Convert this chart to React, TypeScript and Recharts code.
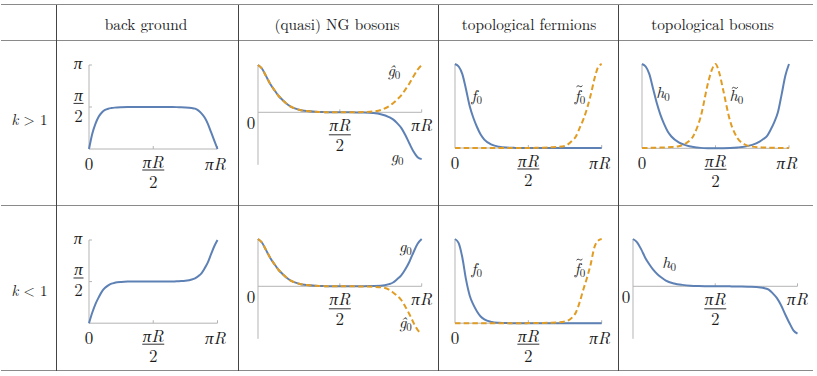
import React from 'react';
import { LineChart, Line, XAxis, YAxis, ReferenceLine } from 'recharts';

// ---------- data (x in units of πR, y) ----------
const X = [0, 0.025, 0.05, 0.075, 0.1, 0.125, 0.15, 0.175, 0.2, 0.25, 0.3, 0.35, 0.4, 0.45, 0.475, 0.5, 0.525, 0.55, 0.6, 0.65, 0.7, 0.75, 0.8, 0.825, 0.85, 0.875, 0.9, 0.925, 0.95, 0.975, 1];

const columnTitles = ['back ground', '(quasi) NG bosons', 'topological fermions', 'topological bosons'];
const rowTitles = ['>', '<'];
const X_TICKS = [0, 0.5, 1];
const Y_TICKS = [1, 2]; // π/2, π  (y in units of π/2)

// background (units of π/2)
const bgHigh = [0, 0.36, 0.6, 0.77, 0.87, 0.93, 0.96, 0.975, 0.985, 0.995, 1, 1, 1, 1, 1, 1, 1, 1, 1, 1, 0.995, 0.99, 0.975, 0.96, 0.92, 0.85, 0.75, 0.6, 0.4, 0.2, 0];
const bgLow = [0, 0.25, 0.46, 0.62, 0.76, 0.85, 0.91, 0.95, 0.97, 0.99, 1, 1, 1, 1, 1, 1, 1, 1, 1, 1, 1.01, 1.02, 1.05, 1.08, 1.13, 1.2, 1.32, 1.46, 1.66, 1.85, 2];
// NG bosons
const g0High = [1, 0.92, 0.76, 0.6, 0.47, 0.35, 0.26, 0.18, 0.12, 0.055, 0.025, 0.01, 0.004, 0.001, 0, 0, 0, -0.001, -0.002, -0.005, -0.015, -0.04, -0.1, -0.15, -0.23, -0.33, -0.48, -0.66, -0.83, -0.95, -0.99];
const gHatHigh = [1, 0.92, 0.76, 0.6, 0.47, 0.35, 0.26, 0.18, 0.12, 0.055, 0.025, 0.01, 0.004, 0.001, 0, 0, 0, 0.001, 0.002, 0.005, 0.015, 0.05, 0.13, 0.19, 0.27, 0.36, 0.48, 0.61, 0.76, 0.9, 1];
const g0Low = [1, 0.92, 0.76, 0.6, 0.47, 0.35, 0.26, 0.18, 0.12, 0.055, 0.025, 0.01, 0.004, 0.001, 0, 0, 0, 0, 0, 0.002, 0.005, 0.01, 0.045, 0.08, 0.15, 0.23, 0.36, 0.52, 0.72, 0.9, 1];
const gHatLow = [1, 0.92, 0.76, 0.6, 0.47, 0.35, 0.26, 0.18, 0.12, 0.055, 0.025, 0.01, 0.004, 0.001, 0, 0, 0, 0, -0.002, -0.005, -0.01, -0.02, -0.07, -0.13, -0.2, -0.29, -0.43, -0.59, -0.77, -0.92, -1];
// topological fermions
const f0High = [1, 0.97, 0.88, 0.7, 0.5, 0.36, 0.25, 0.16, 0.1, 0.04, 0.015, 0.005, 0.002, 0, 0, 0, 0, 0, 0, 0, 0, 0, 0, 0, 0, 0, 0, 0, 0, 0, 0];
const fTildeHigh = [0, 0, 0, 0, 0, 0, 0, 0, 0, 0, 0, 0, 0, 0, 0, 0.001, 0.001, 0.002, 0.004, 0.008, 0.013, 0.025, 0.09, 0.14, 0.24, 0.34, 0.47, 0.63, 0.82, 0.96, 1];
const f0Low = [1, 0.95, 0.78, 0.52, 0.33, 0.22, 0.14, 0.08, 0.045, 0.015, 0.005, 0.001, 0, 0, 0, 0, 0, 0, 0, 0, 0, 0, 0, 0, 0, 0, 0, 0, 0, 0, 0];
const fTildeLow = [0, 0, 0, 0, 0, 0, 0, 0, 0, 0, 0, 0, 0, 0, 0, 0.001, 0.001, 0.002, 0.003, 0.005, 0.009, 0.02, 0.07, 0.13, 0.25, 0.4, 0.54, 0.7, 0.9, 0.98, 1];
// topological bosons
const h0High = [1, 0.97, 0.88, 0.71, 0.54, 0.4, 0.29, 0.2, 0.14, 0.07, 0.035, 0.015, 0.005, 0.001, 0, 0, 0, 0.001, 0.004, 0.01, 0.02, 0.04, 0.08, 0.11, 0.145, 0.22, 0.31, 0.43, 0.64, 0.86, 1];
const hTildeHigh = [0.005, 0.005, 0.005, 0.006, 0.007, 0.008, 0.01, 0.012, 0.015, 0.025, 0.06, 0.15, 0.38, 0.78, 0.93, 1, 0.9, 0.71, 0.32, 0.12, 0.045, 0.02, 0.012, 0.01, 0.008, 0.007, 0.006, 0.005, 0.005, 0.005, 0.005];
const h0Low = [1, 0.93, 0.78, 0.6, 0.46, 0.34, 0.25, 0.18, 0.12, 0.06, 0.03, 0.012, 0.005, 0.001, 0, 0, 0, 0, -0.002, -0.005, -0.01, -0.015, -0.04, -0.07, -0.15, -0.25, -0.4, -0.59, -0.77, -0.93, -1];

// ---------- styles ----------
const FONT = '"Latin Modern Roman", "Liberation Serif", serif';
const INK = '#1a1a1a';
const AXIS = '#b4b4b4';
const BLUE = '#5e81b5';
const ORANGE = '#e19c24';
const TICK_FS = 17;
const ML = 34, MR = 18, MT = 14, MB = 52;

type Series = { key: string; values: number[]; color: string; dashed?: boolean };
type Note = { x: number; y: number; base: string; accent?: 'tilde' };
type Panel = {
  id: string;
  box: { x: number; y: number; w: number; h: number };
  yDomain: [number, number];
  mode: 'bottom' | 'mid';
  yTicks?: boolean;
  series: Series[];
  notes: Note[];
};

const panels: Panel[] = [
  { id: 'r1c1', box: { x: 88.5, y: 65, w: 128.5, h: 84 }, yDomain: [0, 2], mode: 'bottom', yTicks: true,
    series: [{ key: 'bg', values: bgHigh, color: BLUE }], notes: [] },
  { id: 'r1c2', box: { x: 258, y: 64.7, w: 163.7, h: 99.8 }, yDomain: [-1.11, 1], mode: 'mid',
    series: [{ key: 'g', values: g0High, color: BLUE }, { key: 'gh', values: gHatHigh, color: ORANGE, dashed: true }],
    notes: [{ x: 0.83, y: 0.86, base: 'ĝ' }, { x: 0.85, y: -0.96, base: 'g' }] },
  { id: 'r1c3', box: { x: 455, y: 64.3, w: 146.7, h: 84 }, yDomain: [0, 1], mode: 'bottom',
    series: [{ key: 'f', values: f0High, color: BLUE }, { key: 'ft', values: fTildeHigh, color: ORANGE, dashed: true }],
    notes: [{ x: 0.148, y: 0.61, base: 'f' }, { x: 0.852, y: 0.61, base: 'f', accent: 'tilde' }] },
  { id: 'r1c4', box: { x: 642.3, y: 64, w: 147, h: 84.3 }, yDomain: [0, 1], mode: 'bottom',
    series: [{ key: 'h', values: h0High, color: BLUE }, { key: 'ht', values: hTildeHigh, color: ORANGE, dashed: true }],
    notes: [{ x: 0.143, y: 0.65, base: 'h' }, { x: 0.642, y: 0.61, base: 'h', accent: 'tilde' }] },
  { id: 'r2c1', box: { x: 88.5, y: 239.5, w: 128.5, h: 83.2 }, yDomain: [0, 2], mode: 'bottom', yTicks: true,
    series: [{ key: 'bg', values: bgLow, color: BLUE }], notes: [] },
  { id: 'r2c2', box: { x: 258, y: 238.7, w: 163.7, h: 99.8 }, yDomain: [-1.11, 1], mode: 'mid',
    series: [{ key: 'g', values: g0Low, color: BLUE }, { key: 'gh', values: gHatLow, color: ORANGE, dashed: true }],
    notes: [{ x: 0.9, y: 0.82, base: 'g' }, { x: 0.9, y: -0.8, base: 'ĝ' }] },
  { id: 'r2c3', box: { x: 455, y: 238.5, w: 146.7, h: 84.2 }, yDomain: [0, 1], mode: 'bottom',
    series: [{ key: 'f', values: f0Low, color: BLUE }, { key: 'ft', values: fTildeLow, color: ORANGE, dashed: true }],
    notes: [{ x: 0.148, y: 0.63, base: 'f' }, { x: 0.852, y: 0.63, base: 'f', accent: 'tilde' }] },
  { id: 'r2c4', box: { x: 632.5, y: 238.7, w: 164.5, h: 99.8 }, yDomain: [-1.11, 1], mode: 'mid',
    series: [{ key: 'h', values: h0Low, color: BLUE }],
    notes: [{ x: 0.22, y: 0.47, base: 'h' }] },
];

function tableRows(series: Series[]) {
  return X.map((x, i) => {
    const row: Record<string, number> = { x };
    series.forEach((s) => { row[s.key] = s.values[i]; });
    return row;
  });
}

const textBase = { fontFamily: FONT, fill: INK, textAnchor: 'middle' as const, fontSize: TICK_FS };

// baselines measured from the tick point (pixels)
const X_LAYOUT = {
  bottom: { z: 20.7, zx: 0, num: 19, bar: 21, den: 38.5, end: 20.8, ex: -2 },
  mid: { z: 17.2, zx: -7, num: 18.3, bar: 22.5, den: 39.2, end: 18.5, ex: 0 },
};

function xTickShape(t: number, mode: 'bottom' | 'mid') {
  const m = X_LAYOUT[mode];
  return (p: any) => {
    const cx = p.x1, cy = p.y1;
    if (t === 0) {
      return <text x={cx + m.zx} y={cy + m.z} {...textBase}>0</text>;
    }
    const mark = <line x1={cx} y1={cy} x2={cx} y2={cy - 3} stroke={AXIS} strokeWidth={1} />;
    if (t === 1) {
      return <g>{mark}<text x={cx + m.ex} y={cy + m.end} {...textBase} fontStyle="italic">πR</text></g>;
    }
    return (
      <g>
        {mark}
        <text x={cx} y={cy + m.num} {...textBase} fontStyle="italic">πR</text>
        <line x1={cx - 11} x2={cx + 11} y1={cy + m.bar} y2={cy + m.bar} stroke={INK} strokeWidth={0.9} />
        <text x={cx} y={cy + m.den} {...textBase}>2</text>
      </g>
    );
  };
}

function yTickShape(t: number) {
  return (p: any) => {
    const cx = p.x1, cy = p.y1;
    const mark = <line x1={cx} y1={cy} x2={cx + 3} y2={cy} stroke={AXIS} strokeWidth={1} />;
    if (t === 2) {
      return <g>{mark}<text x={cx - 11} y={cy + 3.7} {...textBase} fontStyle="italic">π</text></g>;
    }
    return (
      <g>
        {mark}
        <text x={cx - 10.5} y={cy - 6.2} {...textBase} fontStyle="italic">π</text>
        <line x1={cx - 15.5} x2={cx - 5.5} y1={cy - 3.6} y2={cy - 3.6} stroke={INK} strokeWidth={0.9} />
        <text x={cx - 10.5} y={cy + 14.5} {...textBase}>2</text>
      </g>
    );
  };
}

function noteShape(n: Note) {
  return (p: any) => {
    const cx = p.x1, cy = p.y1;
    const isH = n.base === 'h';
    const tx = isH ? cx - 1.5 : cx - 0.5;
    const ty = isH ? cy - 9 : cy - 10.5;
    return (
      <g>
        <text x={cx} y={cy + 4} {...textBase} fontSize={16}>
          <tspan fontStyle="italic">{n.base}</tspan>
          <tspan fontSize={11} dy={3}>0</tspan>
        </text>
        {n.accent === 'tilde' && (
          <path d={`M${tx - 3},${ty + 0.6} q1.5,-2 3,-0.6 t3,-0.6`} fill="none" stroke={INK} strokeWidth={0.8} />
        )}
      </g>
    );
  };
}

function MiniPlot({ panel }: { panel: Panel }) {
  const { box, yDomain, mode, series, notes } = panel;
  const data = tableRows(series);
  return (
    <div style={{ position: 'absolute', left: box.x - ML, top: box.y - MT }}>
      <LineChart width={box.w + ML + MR} height={box.h + MT + MB} data={data}
        margin={{ top: MT, right: MR, bottom: MB, left: ML }}>
        <XAxis type="number" dataKey="x" domain={[0, 1]} hide />
        <YAxis type="number" domain={yDomain} hide />
        <ReferenceLine y={0} stroke={AXIS} strokeWidth={1} />
        <ReferenceLine x={0} stroke={AXIS} strokeWidth={1} />
        {X_TICKS.map((t) => (
          <ReferenceLine key={'xt' + t} segment={[{ x: t, y: 0 }, { x: t, y: 0 }]} shape={xTickShape(t, mode)} />
        ))}
        {panel.yTicks && Y_TICKS.map((t) => (
          <ReferenceLine key={'yt' + t} segment={[{ x: 0, y: t }, { x: 0, y: t }]} shape={yTickShape(t)} />
        ))}
        {series.map((s) => (
          <Line key={s.key} dataKey={s.key} type="monotone" stroke={s.color} strokeWidth={2}
            strokeDasharray={s.dashed ? '5.5 3.2' : undefined} dot={false} activeDot={false}
            isAnimationActive={false} />
        ))}
        {notes.map((n, i) => (
          <ReferenceLine key={'n' + i} segment={[{ x: n.x, y: n.y }, { x: n.x, y: n.y }]} shape={noteShape(n)} />
        ))}
      </LineChart>
    </div>
  );
}

const H_LINES = [4.5, 40.5, 205, 370.5];
const V_LINES = [56.5, 238.5, 438.5, 618.5];
const TITLE_X = [146, 337, 529, 712.5];
const ROW_Y = [118.3, 289];

export default function App() {
  return (
    <div style={{ position: 'absolute', left: 0, top: 0, width: 817, height: 376, background: '#fff', fontFamily: FONT, color: INK }}>
      {H_LINES.map((y, i) => (
        <div key={'h' + i} style={{ position: 'absolute', left: 1, top: y - 0.5, width: 812, height: 1, background: '#8a8a8a' }} />
      ))}
      {V_LINES.map((x, i) => (
        <div key={'v' + i} style={{ position: 'absolute', left: x - 0.5, top: 5, width: 1, height: 366, background: '#444' }} />
      ))}
      {columnTitles.map((t, i) => (
        <div key={'c' + i} style={{ position: 'absolute', left: TITLE_X[i], top: 24, transform: 'translate(-50%, -50%)', whiteSpace: 'nowrap', fontSize: 15.3, lineHeight: 1 }}>{t}</div>
      ))}
      {rowTitles.map((r, i) => (
        <div key={'r' + i} style={{ position: 'absolute', left: 29.5, top: ROW_Y[i], transform: 'translate(-50%, -50%)', whiteSpace: 'nowrap', fontSize: 15, lineHeight: 1 }}>
          <i>k</i>{' ' + r + ' 1'}
        </div>
      ))}
      {panels.map((p) => <MiniPlot key={p.id} panel={p} />)}
    </div>
  );
}
